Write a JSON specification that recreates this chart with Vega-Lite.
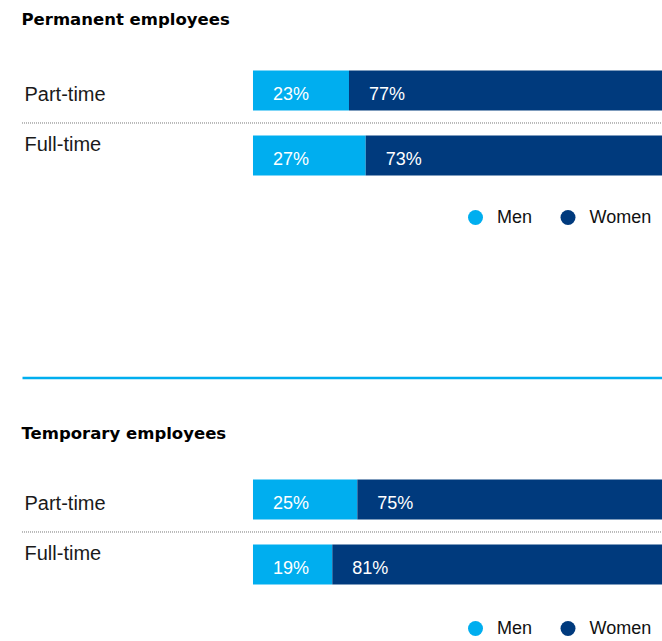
{
  "$schema": "https://vega.github.io/schema/vega-lite/v6.json",
  "padding": {"left": 21, "top": 12, "right": 0, "bottom": 0},
  "background": "white",
  "spacing": 48,
  "config": {"view": {"stroke": null}},
  "datasets": {
    "permanent": [
      {"type": "Part-time", "gender": "Men", "pct": 0.23, "order": 1},
      {"type": "Part-time", "gender": "Women", "pct": 0.77, "order": 2},
      {"type": "Full-time", "gender": "Men", "pct": 0.27, "order": 1},
      {"type": "Full-time", "gender": "Women", "pct": 0.73, "order": 2}
    ],
    "temporary": [
      {"type": "Part-time", "gender": "Men", "pct": 0.25, "order": 1},
      {"type": "Part-time", "gender": "Women", "pct": 0.75, "order": 2},
      {"type": "Full-time", "gender": "Men", "pct": 0.19, "order": 1},
      {"type": "Full-time", "gender": "Women", "pct": 0.81, "order": 2}
    ]
  },
  "vconcat": [
    {
      "width": 641,
      "height": 319.5,
      "title": {"text": "Permanent employees", "anchor": "start", "offset": 16.5, "baseline": "alphabetic", "font": "DejaVu Sans", "fontSize": 16.5, "fontWeight": "bold", "color": "#000000"},
      "data": {"name": "permanent"},
      "transform": [{"stack": "pct", "groupby": ["type"], "sort": [{"field": "order"}], "as": ["x0", "x1"]}],
      "encoding": {
        "y": {
          "field": "type", "type": "nominal", "sort": ["Part-time", "Full-time"],
          "scale": {"range": [0, 130], "paddingInner": 0.3846, "paddingOuter": 0.1923},
          "axis": {"title": null, "domain": false, "ticks": false, "tickSize": 0, "labelAlign": "left", "labelPadding": -2, "labelBaseline": "alphabetic", "labelFont": "Liberation Sans", "labelFontSize": 20, "labelColor": "#1a1a1a", "labelOffset": {"condition": {"test": "datum.value === 'Part-time'", "value": 10.3}, "value": -4.5}}
        }
      },
      "layer": [
        {
          "mark": {"type": "bar", "clip": true},
          "encoding": {
            "x": {"field": "x0", "type": "quantitative", "scale": {"domain": [-0.5534, 0.9823], "nice": false, "zero": false},
                  "axis": {"orient": "bottom", "labels": false, "ticks": false, "grid": false, "title": null, "domainColor": "#00aeef", "domainWidth": 2.3}},
            "x2": {"field": "x1"},
            "color": {"field": "gender", "type": "nominal", "scale": {"domain": ["Men", "Women"], "range": ["#00aeef", "#003a7d"]},
                      "legend": {"orient": "none", "legendX": 444.5, "legendY": 150.5, "direction": "horizontal", "title": null, "symbolType": "circle", "symbolSize": 225, "symbolStrokeWidth": 0, "labelFont": "Liberation Sans", "labelFontSize": 18, "labelColor": "#111111", "labelOffset": 12.5, "columnPadding": 26.5, "padding": 0}}
          }
        },
        {
          "mark": {"type": "text", "align": "left", "baseline": "alphabetic", "dx": 20, "dy": 9.5, "font": "Liberation Sans", "fontSize": 18, "color": "#ffffff"},
          "encoding": {
            "x": {"field": "x0", "type": "quantitative"},
            "text": {"field": "pct", "type": "quantitative", "format": ".0%"}
          }
        },
        {
          "transform": [{"filter": "datum.type === 'Full-time' && datum.gender === 'Men'"}],
          "mark": {"type": "rule", "strokeDash": [1, 1], "color": "#777777", "strokeWidth": 1},
          "encoding": {"y": {"field": "type", "type": "nominal", "sort": ["Part-time", "Full-time"], "bandPosition": -0.3125}}
        }
      ]
    },
    {
      "width": 641,
      "height": 130,
      "title": {"text": "Temporary employees", "anchor": "start", "offset": 11.5, "baseline": "alphabetic", "font": "DejaVu Sans", "fontSize": 16.5, "fontWeight": "bold", "color": "#000000"},
      "data": {"name": "temporary"},
      "transform": [{"stack": "pct", "groupby": ["type"], "sort": [{"field": "order"}], "as": ["x0", "x1"]}],
      "encoding": {
        "y": {
          "field": "type", "type": "nominal", "sort": ["Part-time", "Full-time"],
          "scale": {"range": [0, 130], "paddingInner": 0.3846, "paddingOuter": 0.1923},
          "axis": {"title": null, "domain": false, "ticks": false, "tickSize": 0, "labelAlign": "left", "labelPadding": -2, "labelBaseline": "alphabetic", "labelFont": "Liberation Sans", "labelFontSize": 20, "labelColor": "#1a1a1a", "labelOffset": {"condition": {"test": "datum.value === 'Part-time'", "value": 10.3}, "value": -4.5}}
        }
      },
      "layer": [
        {
          "mark": {"type": "bar", "clip": true},
          "encoding": {
            "x": {"field": "x0", "type": "quantitative", "scale": {"domain": [-0.5534, 0.9823], "nice": false, "zero": false}, "axis": null},
            "x2": {"field": "x1"},
            "color": {"field": "gender", "type": "nominal", "scale": {"domain": ["Men", "Women"], "range": ["#00aeef", "#003a7d"]},
                      "legend": {"orient": "none", "legendX": 444.5, "legendY": 152.5, "direction": "horizontal", "title": null, "symbolType": "circle", "symbolSize": 225, "symbolStrokeWidth": 0, "labelFont": "Liberation Sans", "labelFontSize": 18, "labelColor": "#111111", "labelOffset": 12.5, "columnPadding": 26.5, "padding": 0}}
          }
        },
        {
          "mark": {"type": "text", "align": "left", "baseline": "alphabetic", "dx": 20, "dy": 9.5, "font": "Liberation Sans", "fontSize": 18, "color": "#ffffff"},
          "encoding": {
            "x": {"field": "x0", "type": "quantitative"},
            "text": {"field": "pct", "type": "quantitative", "format": ".0%"}
          }
        },
        {
          "transform": [{"filter": "datum.type === 'Full-time' && datum.gender === 'Men'"}],
          "mark": {"type": "rule", "strokeDash": [1, 1], "color": "#777777", "strokeWidth": 1},
          "encoding": {"y": {"field": "type", "type": "nominal", "sort": ["Part-time", "Full-time"], "bandPosition": -0.3125}}
        }
      ]
    }
  ],
  "resolve": {"legend": {"color": "independent"}, "scale": {"x": "independent", "y": "independent"}}
}
